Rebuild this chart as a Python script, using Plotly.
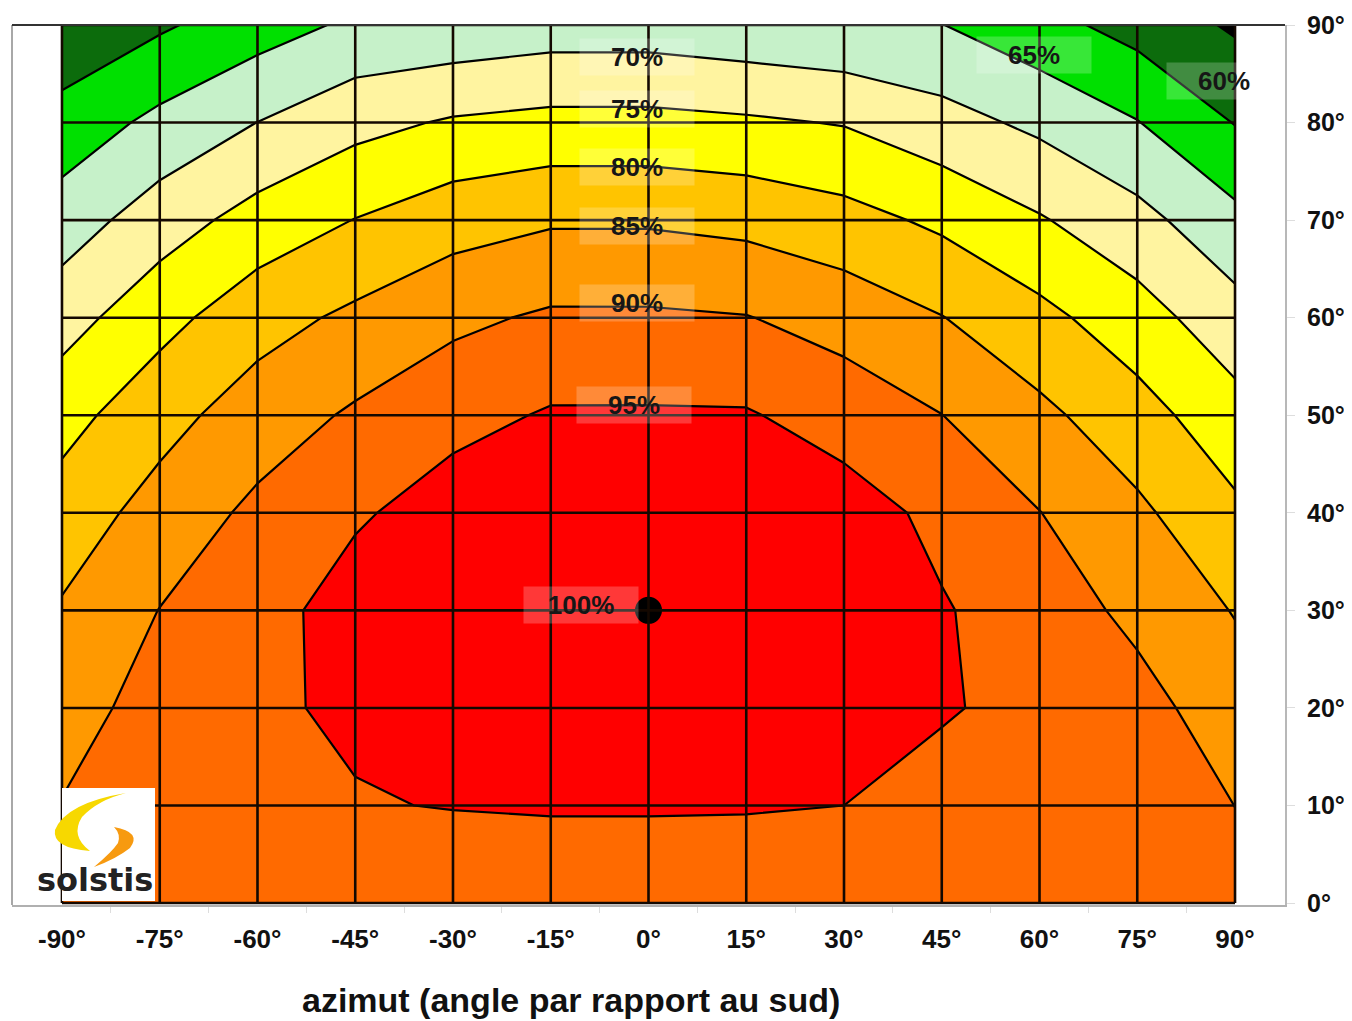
import plotly.graph_objects as go

# ---------------- data ----------------
azimuths = [-90, -75, -60, -45, -30, -15, 0, 15, 30, 45, 60, 75, 90]
tilts = [0, 10, 20, 30, 40, 50, 60, 70, 80, 90]

# relative yield (%) for each azimuth, listed from tilt 0 to tilt 90
eff_az_m90 = [91, 90.2, 87.85, 85.5, 82.24, 78.2, 72.93, 67.42, 61.9, 56.15]
eff_az_m75 = [91, 92.5, 92.0, 90.1, 86.93, 83.24, 78.33, 72.56, 66.3, 59.3]
eff_az_m60 = [91, 93.8, 94.3, 92.8, 91.1, 87.45, 83.06, 76.96, 70.05, 62.75]
eff_az_m45 = [91, 94.7, 95.72, 97.5, 94.28, 90.68, 86.03, 80.13, 73.48, 65.9]
eff_az_m30 = [91, 95.2, 97.8, 98.3, 97.5, 93.39, 88.93, 82.9, 75.55, 66.45]
eff_az_m15 = [91, 95.5, 98.8, 99.4, 98.5, 95.48, 90.71, 84.44, 76.43, 67.5]
eff_az_0 = [91, 95.5, 99.3, 100, 98.8, 95.5, 90.7, 84.44, 76.43, 67.5]
eff_az_p15 = [91, 95.4, 98.6, 99.2, 98.3, 95.42, 90.19, 83.6, 75.74, 66.5]
eff_az_p30 = [91, 95.0, 97.0, 97.8, 97.2, 92.89, 88.06, 81.76, 74.73, 65.6]
eff_az_p45 = [91, 93.8, 95.3, 95.4, 93.8, 90.06, 85.15, 79.04, 71.83, 65.1]
eff_az_p60 = [91, 93.3, 94.05, 92.5, 90.1, 86.15, 81.41, 75.44, 68.91, 61.67]
eff_az_p75 = [91, 92.0, 91.7, 88.83, 85.97, 81.97, 77.12, 71.63, 65.2, 58.17]
eff_az_p90 = [91, 89.98, 87.41, 84.74, 80.98, 76.84, 71.94, 66.36, 59.81, 54.3]

columns = [eff_az_m90, eff_az_m75, eff_az_m60, eff_az_m45, eff_az_m30, eff_az_m15,
           eff_az_0, eff_az_p15, eff_az_p30, eff_az_p45, eff_az_p60, eff_az_p75, eff_az_p90]

optimum_azimuth = [0]
optimum_tilt = [30]

level_start, level_end, level_step = 55, 95, 5
band_colors = ["#000000", "#0c6c0c", "#00e000", "#c6f1c9", "#fff4a0",
               "#ffff00", "#ffc400", "#ff9900", "#ff6a00", "#ff0000"]

x_tick_text = [f"{a}°" for a in azimuths]
y_tick_text = [f"{t}°" for t in tilts]
x_title = "azimut (angle par rapport au sud)"

label_texts = ["70%", "75%", "80%", "85%", "90%", "95%", "100%", "65%", "60%"]

# ---------------- figure ----------------
z = [[col[i] for col in columns] for i in range(len(tilts))]
n = len(band_colors) - 1
colorscale = [[i / n, c] for i, c in enumerate(band_colors)]

fig = go.Figure()
fig.add_trace(go.Contour(
    x=azimuths, y=tilts, z=z,
    autocontour=False,
    contours=dict(start=level_start, end=level_end, size=level_step,
                  coloring="fill", showlines=True),
    line=dict(color="black", width=2.2, smoothing=0),
    colorscale=colorscale, showscale=False, hoverinfo="skip",
))
fig.add_trace(go.Scatter(
    x=optimum_azimuth, y=optimum_tilt, mode="markers",
    marker=dict(size=27, color="black"), hoverinfo="skip", showlegend=False,
))

# page offset of the figure inside the html body (default body margin)
OFF = 8
W, H = 1344, 1013
ML, MR, MT, MB = 4, 67, 17, 116
PW, PH = W - ML - MR, H - MT - MB
PLOT_LEFT = OFF + ML
PLOT_BOTTOM = OFF + H - MB


def px(xp):
    return (xp - PLOT_LEFT) / PW


def py(yp):
    return (PLOT_BOTTOM - yp) / PH


shapes = []
grid_line = dict(color="#140800", width=2.6)
for a in azimuths:
    shapes.append(dict(type="line", xref="x", yref="y", x0=a, x1=a,
                       y0=tilts[0], y1=tilts[-1], line=grid_line, layer="above"))
for t in tilts:
    shapes.append(dict(type="line", xref="x", yref="y", x0=azimuths[0], x1=azimuths[-1],
                       y0=t, y1=t, line=grid_line, layer="above"))

# frame
shapes.append(dict(type="line", xref="paper", yref="paper", x0=0, x1=0, y0=0, y1=1,
                   line=dict(color="#a8a8a8", width=2), layer="above"))
shapes.append(dict(type="line", xref="paper", yref="paper", x0=0, x1=1, y0=1, y1=1,
                   line=dict(color="#333333", width=2), layer="above"))


def path_from(points):
    cmds = []
    for cmd, pts in points:
        coords = " ".join(f"{px(a):.5f},{py(b):.5f}" for a, b in pts)
        cmds.append(f"{cmd} {coords}")
    return " ".join(cmds) + " Z"


# logo
shapes.append(dict(type="rect", xref="paper", yref="paper", x0=px(62), x1=px(155),
                   y0=py(901), y1=py(788), fillcolor="white", line=dict(width=0),
                   layer="above"))
yellow = path_from([("M", [(126, 793)]), ("Q", [(66, 803), (55, 830)]),
                    ("Q", [(52, 848), (90, 851)]), ("Q", [(70, 836), (82, 817)]),
                    ("Q", [(98, 800), (126, 793)])])
shapes.append(dict(type="path", xref="paper", yref="paper", path=yellow,
                   fillcolor="#f7d800", line=dict(width=0), layer="above"))
orange = path_from([("M", [(114, 827)]), ("Q", [(142, 832), (130, 848)]),
                    ("Q", [(116, 859), (94, 867)]), ("Q", [(112, 852), (118, 843)]),
                    ("Q", [(121, 834), (114, 827)])])
shapes.append(dict(type="path", xref="paper", yref="paper", path=orange,
                   fillcolor="#f79a10", line=dict(width=0), layer="above"))

annotations = []
label_places = [(-1.8, 86.7), (-1.8, 81.4), (-1.8, 75.4), (-1.8, 69.4), (-1.8, 61.5),
                (-2.3, 51.0), (-10.4, 30.6), (59.1, 86.9), (88.3, 84.3)]
for txt, (ax_, ay_) in zip(label_texts, label_places):
    annotations.append(dict(
        x=ax_, y=ay_, xref="x", yref="y", text=txt, showarrow=False,
        font=dict(family="Liberation Sans, Arial", size=26, color="#161616",
                  weight="bold"),
        bgcolor="rgba(255,255,255,0.22)", width=112, height=34,
        xanchor="center", yanchor="middle",
    ))
annotations.append(dict(
    x=px(95), y=py(880), xref="paper", yref="paper", text="solstis", showarrow=False,
    font=dict(family="DejaVu Sans", size=32, color="#222222", weight="bold"),
    xanchor="center", yanchor="middle",
))
annotations.append(dict(
    x=px(571), y=py(1000), xref="paper", yref="paper", text=x_title, showarrow=False,
    font=dict(family="Liberation Sans, Arial", size=34, color="#111111", weight="bold"),
    xanchor="center", yanchor="middle",
))

midpoints = [(azimuths[i] + azimuths[i + 1]) / 2 for i in range(len(azimuths) - 1)]
tick_font = dict(family="Liberation Sans, Arial", size=26, color="#111111", weight="bold")
ytick_font = dict(family="Liberation Sans, Arial", size=25, color="#111111", weight="bold")

fig.update_layout(
    width=W, height=H,
    margin=dict(l=ML, r=MR, t=MT, b=MB, pad=0),
    paper_bgcolor="white", plot_bgcolor="white",
    showlegend=False,
    shapes=shapes, annotations=annotations,
    xaxis=dict(range=[-97.67, 97.67], tickmode="array", tickvals=azimuths,
               ticktext=x_tick_text, tickfont=tick_font, ticks="",
               showgrid=False, zeroline=False, showline=True,
               linecolor="#b0b0b0", linewidth=2, ticklabelstandoff=10,
               minor=dict(tickmode="array", tickvals=midpoints, ticks="outside",
                          ticklen=6, tickcolor="#dddddd", showgrid=False)),
    yaxis=dict(range=[-0.2, 90], side="right", tickmode="array", tickvals=tilts,
               ticktext=y_tick_text, tickfont=ytick_font, ticks="outside",
               ticklen=8, tickcolor="#dddddd", showgrid=False, zeroline=False,
               showline=True, linecolor="#b8b8b8", linewidth=2,
               ticklabelstandoff=7),
)

fig.write_html("out.html")
